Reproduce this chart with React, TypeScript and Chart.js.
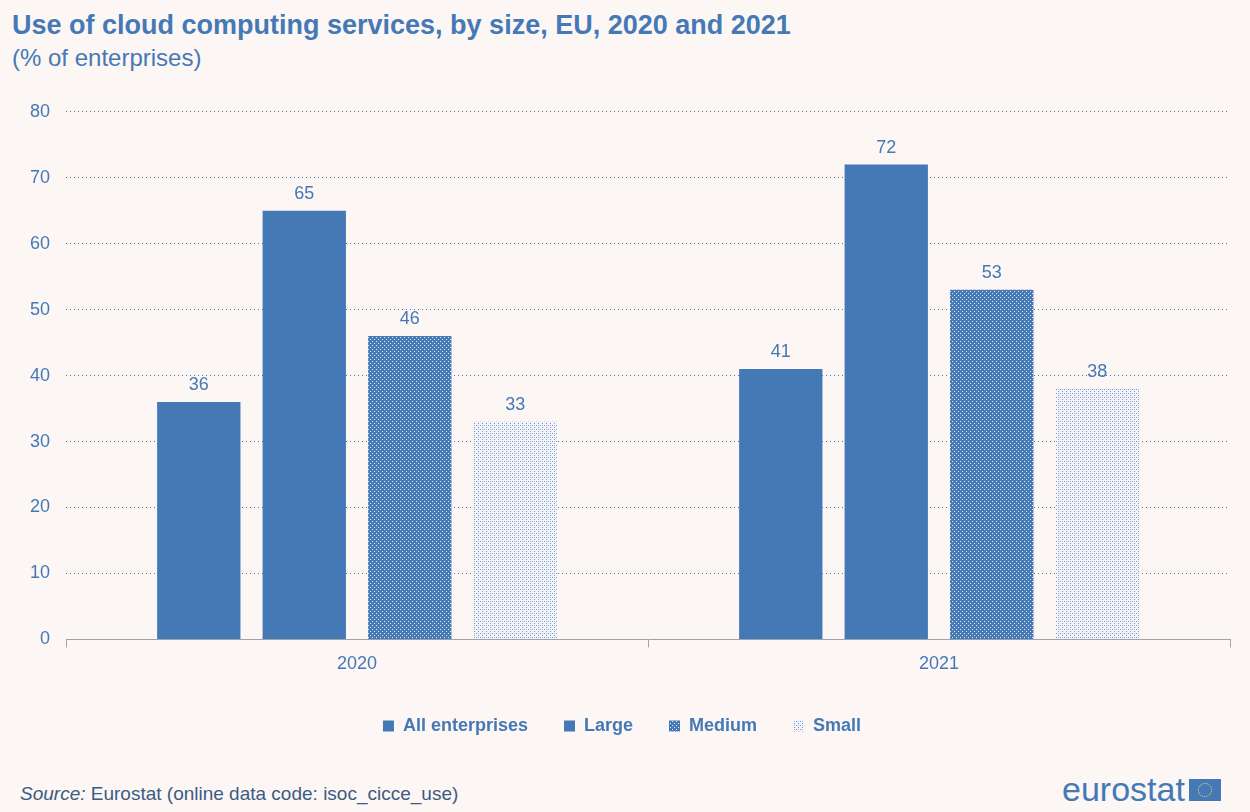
import React, { useEffect, useRef } from "react";
import { Chart, registerables } from "chart.js";
Chart.register(...registerables);

const categories = ["2020", "2021"];
const seriesNames = ["All enterprises", "Large", "Medium", "Small"];
const allEnterprises = [36, 41];
const large = [65, 72];
const medium = [46, 53];
const small = [33, 38];
const yTicks = [0, 10, 20, 30, 40, 50, 60, 70, 80];

const BLUE = "#4579b6";
const BG = "#fcf6f4";
const FONT = "'Liberation Sans', Arial, sans-serif";

function makePattern(kind: "medium" | "small"): CanvasPattern | string {
  const c = document.createElement("canvas");
  c.width = 4; c.height = 4;
  const g = c.getContext("2d")!;
  if (kind === "medium") {
    g.fillStyle = BLUE; g.fillRect(0, 0, 4, 4);
    g.fillStyle = "#e6eef8"; g.fillRect(0, 0, 1, 1); g.fillRect(2, 2, 1, 1);
  } else {
    g.fillStyle = "#f4f4f8"; g.fillRect(0, 0, 4, 4);
    g.fillStyle = "#6f98cc"; g.fillRect(0, 0, 1, 1); g.fillRect(2, 2, 1, 1);
    g.fillStyle = "#a9c0e0"; g.fillRect(2, 0, 1, 1);
  }
  const ctx = document.createElement("canvas").getContext("2d")!;
  return ctx.createPattern(c, "repeat") || BLUE;
}

const valueLabels = {
  id: "valueLabels",
  afterDatasetsDraw(chart: any) {
    const ctx = chart.ctx;
    ctx.save();
    ctx.font = `18px ${FONT}`;
    ctx.fillStyle = BLUE;
    ctx.textAlign = "center";
    ctx.textBaseline = "bottom";
    chart.data.datasets.forEach((ds: any, i: number) => {
      chart.getDatasetMeta(i).data.forEach((bar: any, j: number) => {
        ctx.fillText(String(ds.data[j]), bar.x, bar.y - 8);
      });
    });
    ctx.restore();
  },
};

export default function App() {
  const ref = useRef<HTMLCanvasElement>(null);
  useEffect(() => {
    const colors = [BLUE, BLUE, makePattern("medium"), makePattern("small")];
    const values = [allEnterprises, large, medium, small];
    const chart = new Chart(ref.current!, {
      type: "bar",
      data: {
        labels: categories,
        datasets: seriesNames.map((n, i) => ({
          label: n,
          data: values[i],
          backgroundColor: colors[i] as any,
          borderWidth: 0,
          categoryPercentage: 0.725,
          barPercentage: 0.79,
        })),
      },
      options: {
        animation: false,
        responsive: false,
        layout: { padding: { left: 14, right: 20, top: 15, bottom: 0 } },
        plugins: {
          tooltip: { enabled: false },
          legend: {
            position: "bottom",
            labels: {
              usePointStyle: true,
              pointStyle: "rect",
              boxWidth: 11,
              boxHeight: 11,
              padding: 36,
              color: BLUE,
              font: { family: FONT, size: 18, weight: "bold" },
            },
          },
        },
        scales: {
          x: {
            offset: true,
            grid: { drawOnChartArea: false, color: "#9aa4b0", tickLength: 8 },
            border: { color: "#9aa4b0" },
            ticks: { color: BLUE, font: { family: FONT, size: 18 }, padding: 6 },
          },
          y: {
            min: 0, max: 80,
            afterBuildTicks: (ax: any) => { ax.ticks = yTicks.map((v) => ({ value: v })); },
            grid: { color: BLUE, lineWidth: 1, tickLength: 0 },
            border: { display: false, dash: [1, 3] },
            ticks: { color: BLUE, font: { family: FONT, size: 18 }, padding: 16 },
          },
        },
      },
      plugins: [valueLabels, {
        id: "dash",
        beforeDraw(c: any) {
          c.options.scales.y.grid.borderDash = [1, 3];
        },
      }],
    } as any);
    (chart.options.scales as any).y.border.dash = [1, 3];
    chart.update();
    return () => chart.destroy();
  }, []);
  return (
    <div style={{ position: "fixed", left: 0, top: 0, width: 1250, height: 812, background: BG, fontFamily: FONT, color: BLUE, overflow: "hidden" }}>
      <div style={{ position: "absolute", left: 12, top: 10, fontSize: 27, fontWeight: "bold" }}>
        Use of cloud computing services, by size, EU, 2020 and 2021
      </div>
      <div style={{ position: "absolute", left: 12, top: 44, fontSize: 24 }}>(% of enterprises)</div>
      <canvas ref={ref} width={1250} height={660} style={{ position: "absolute", left: 0, top: 85 }} />
      <div style={{ position: "absolute", left: 20, top: 783, fontSize: 19, color: "#3d5b82" }}>
        <i>Source:</i> Eurostat (online data code: isoc_cicce_use)
      </div>
      <div style={{ position: "absolute", left: 1062, top: 770, fontSize: 34, display: "flex", alignItems: "center" }}>
        <span>eurostat</span>
        <span style={{ display: "inline-block", width: 32, height: 22, background: BLUE, marginLeft: 4, position: "relative" }}>
          <span style={{ position: "absolute", left: 9, top: 4, width: 12, height: 12, borderRadius: "50%", border: "1px dotted #f4e060" }} />
        </span>
      </div>
    </div>
  );
}
